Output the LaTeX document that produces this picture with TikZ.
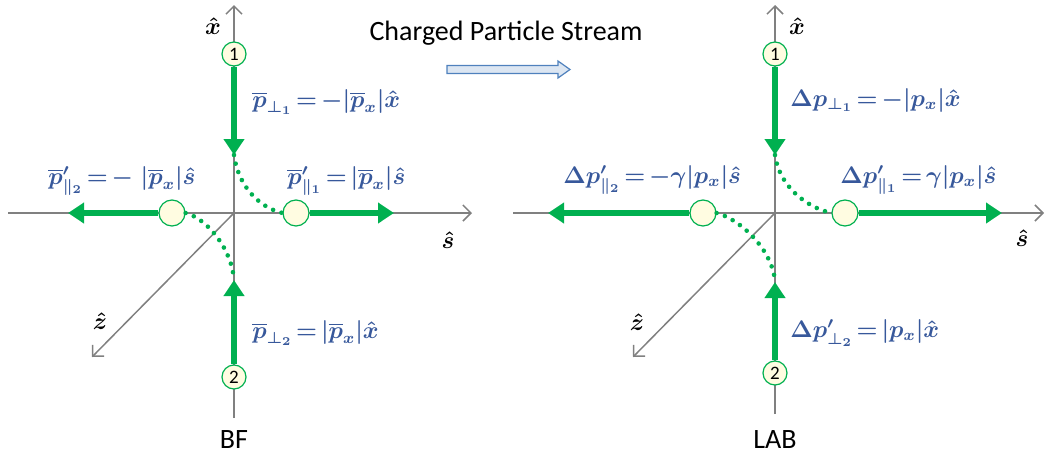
\documentclass[tikz,border=0pt]{standalone}
\usepackage{amsmath}
\usepackage{fontspec}
\newfontfamily\calib{Carlito}
\usetikzlibrary{arrows.meta}
\definecolor{pgreen}{RGB}{0,176,80}
\definecolor{pblue}{RGB}{55,88,155}
\definecolor{agray}{RGB}{128,128,128}
\definecolor{cfill}{RGB}{255,252,225}
\definecolor{sfill}{RGB}{220,230,242}
\definecolor{sdraw}{RGB}{79,129,189}
\newcommand{\eqq}{\mskip2.5mu{=}\mskip2.5mu}
\newcommand{\bp}{\overline{p}}
\tikzset{
  axis/.style={draw=agray, line width=0.75pt, -{Straight Barb[length=4pt,width=8pt]}},
  axisplain/.style={draw=agray, line width=0.75pt},
  mom/.style={draw=pgreen, line width=3pt, -{Triangle[length=8pt,width=10pt]}},
  dots/.style={draw=pgreen, line width=2.3pt, line cap=round, dash pattern=on 0pt off 4.4pt},
  part/.style={circle, draw=pgreen, line width=0.6pt, fill=cfill, minimum size=12pt, inner sep=0pt, font=\calib\fontsize{9.5}{9.5}\selectfont},
  lbl/.style={text=pblue, anchor=west, inner sep=0pt, font=\fontsize{11.5}{13}\selectfont\boldmath},
  axlbl/.style={text=black, inner sep=0pt, font=\fontsize{11.5}{13}\selectfont\boldmath},
  captxt/.style={text=black, inner sep=0pt, font=\calib\fontsize{14}{16}\selectfont}
}
\begin{document}
\begin{tikzpicture}[x=0.5pt,y=-0.5pt]
\useasboundingbox (0,0) rectangle (1046,461);

% ---------- title and stream arrow ----------
\node[captxt] (title) at (506,33) {Charged Particle Stream};
\draw[draw=sdraw, fill=sfill, line width=0.6pt]
  (447,65.5) -- (558,65.5) -- (558,61) -- (570,69.5) -- (558,78) -- (558,73.5) -- (447,73.5) -- cycle;

% ================= BF frame =================
\coordinate (O1) at (234,213);
\coordinate (xt1) at (234,5);
\coordinate (xb1) at (234,418);
\coordinate (sl1) at (8,213);
\coordinate (sr1) at (472,213);
\coordinate (zt1) at (92,357);
\draw[axisplain] (xb1) -- (O1);
\draw[axis] (O1) -- (xt1);
\draw[axis] (sl1) -- (sr1);
\draw[axis] (O1) -- (zt1);
\node[axlbl] (xh1) at (213,26) {$\hat x$};
\node[axlbl] (sh1) at (448,240) {$\hat s$};
\node[axlbl] (zh1) at (100,321) {$\hat z$};

\node[part] (a1) at (234,54) {1};
\node[part] (a2) at (234,377) {2};
\node[part,minimum size=13pt] (c1r) at (296,213) {};
\node[part,minimum size=13pt] (c1l) at (172,213) {};
\coordinate (t1) at (234,155);
\coordinate (b1) at (234,280);
\draw[mom] (a1) -- (t1);
\draw[mom] (a2) -- (b1);
\draw[mom] (c1r) -- (394,213);
\draw[mom] (c1l) -- (68,213);
\draw[dots] (t1) .. controls (238,185) and (258,207) .. (c1r.west);
\draw[dots] (c1l.east) .. controls (208,219) and (232,250) .. (b1);

\node[lbl] (l11) at (252,102) {$\bp_{\perp_1}\eqq{-}|\bp_x|\hat x$};
\node[lbl] (l12) at (48,181) {$\bp'_{\parallel_2}\eqq{-}\;|\bp_x|\hat s$};
\node[lbl] (l13) at (287,181) {$\bp'_{\parallel_1}\eqq|\bp_x|\hat s$};
\node[lbl] (l14) at (252,333) {$\bp_{\perp_2}\eqq|\bp_x|\hat x$};
\node[captxt] (bf) at (234,440) {BF};

% ================= LAB frame =================
\coordinate (O2) at (775,213);
\coordinate (xt2) at (775,5);
\coordinate (xb2) at (775,414);
\coordinate (sl2) at (513,213);
\coordinate (sr2) at (1044,213);
\coordinate (zt2) at (633,357);
\draw[axisplain] (xb2) -- (O2);
\draw[axis] (O2) -- (xt2);
\draw[axis] (sl2) -- (sr2);
\draw[axis] (O2) -- (zt2);
\node[axlbl] (xh2) at (797,26) {$\hat x$};
\node[axlbl] (sh2) at (1022,238) {$\hat s$};
\node[axlbl] (zh2) at (637,322) {$\hat z$};

\node[part] (b1c) at (775,54) {1};
\node[part] (b2c) at (775,373) {2};
\node[part,minimum size=13pt] (c2r) at (845,213) {};
\node[part,minimum size=13pt] (c2l) at (703,213) {};
\coordinate (t2) at (775,155);
\coordinate (b2) at (775,282);
\draw[mom] (b1c) -- (t2);
\draw[mom] (b2c) -- (b2);
\draw[mom] (c2r) -- (1002,213);
\draw[mom] (c2l) -- (548,213);
\draw[dots] (t2) .. controls (779,185) and (805,207) .. (c2r.west);
\draw[dots] (c2l.east) .. controls (740,219) and (773,250) .. (b2);

\node[lbl] (l21) at (790,100) {$\Delta p_{\perp_1}\eqq{-}|p_x|\hat x$};
\node[lbl] (l22) at (563,180) {$\Delta p'_{\parallel_2}\eqq{-}\gamma|p_x|\hat s$};
\node[lbl] (l23) at (840,180) {$\Delta p'_{\parallel_1}\eqq\gamma|p_x|\hat s$};
\node[lbl] (l24) at (790,333) {$\Delta p'_{\perp_2}\eqq|p_x|\hat x$};
\node[captxt] (lab) at (775,440) {LAB};
\end{tikzpicture}
\end{document}
